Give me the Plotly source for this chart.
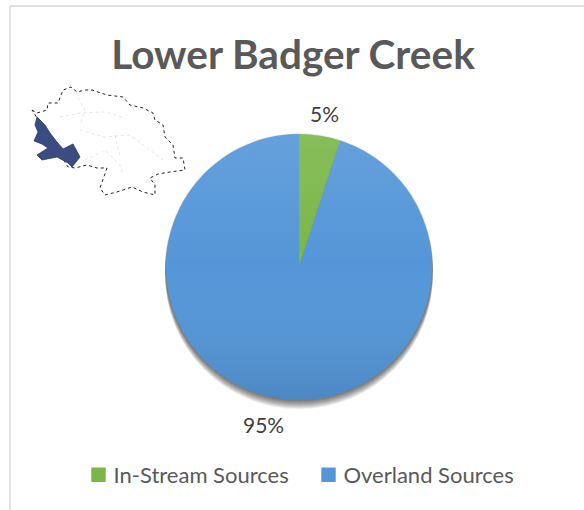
import base64
import plotly.graph_objects as go

W, H = 584, 510

title = "Lower Badger Creek"
categories = ["In-Stream Sources", "Overland Sources"]
shares = [5, 95]
colors = ["#7AB648", "#5496D8"]
label_positions = [(325, 114), (263, 424)]

# Inset locator map, in page pixels (decoration, not data)
map_outline = [(32,110),(37,113),(47,110),(48,103),(58,103),(63,90),(71,87),(77,92),(85,90),(92,90),
               (107,95),(123,97),(130,105),(143,108),(153,113),(155,120),(163,125),(165,137),(173,145),
               (175,158),(183,158),(185,170),(170,172),(158,174),(150,178),(155,185),(155,195),(143,192),
               (132,187),(117,192),(105,195),(100,188),(107,168),(97,168),(87,165),(75,168),(68,167)]
map_basin = [(37,117),(45,125),(50,133),(57,142),(63,149),(73,144),(80,157),(72,167),(68,163),(57,157),(42,160),
             (37,155),(48,148),(42,144),(34,141),(38,132),(35,125)]
map_inner = [[(60,117),(80,113),(105,112),(125,118)],
             [(80,130),(105,137),(130,135),(150,150),(163,160)],
             [(85,160),(105,150),(120,165),(123,175)],
             [(78,98),(85,110),(80,125)],
             [(115,135),(120,155)]]


def px(x, y):
    return x / W, 1 - y / H


def path(points, close=False):
    parts = []
    for i, (x, y) in enumerate(points):
        fx, fy = px(x, y)
        parts.append(("M" if i == 0 else "L") + f"{fx:.5f},{fy:.5f}")
    return " ".join(parts) + (" Z" if close else "")


cx, cy, r = 299, 267, 133
shapes = []

# frame
shapes.append(dict(type="line", xref="paper", yref="paper", x0=10/W, x1=1, y0=1-6/H, y1=1-6/H,
                   line=dict(color="#d9d9d9", width=1.5)))
shapes.append(dict(type="line", xref="paper", yref="paper", x0=10/W, x1=10/W, y0=0, y1=1-6/H,
                   line=dict(color="#d9d9d9", width=1.5)))

# soft shadow under the pie, cast downwards
for i in range(9):
    rr = r + 1
    x0, y0 = px(cx - rr, cy + i - rr)
    x1, y1 = px(cx + rr, cy + i + rr)
    shapes.append(dict(type="circle", xref="paper", yref="paper", x0=x0, x1=x1, y0=y0, y1=y1,
                       layer="below", fillcolor="rgba(0,0,0,0.075)", line_width=0))

# white backing of the inset
x0, y0 = px(28, 80)
x1, y1 = px(186, 197)
shapes.append(dict(type="rect", xref="paper", yref="paper", x0=x0, x1=x1, y0=y0, y1=y1,
                   fillcolor="white", line_width=0, layer="above"))
shapes.append(dict(type="path", xref="paper", yref="paper", path=path(map_outline, True),
                   line=dict(color="#222222", width=1, dash="dot"), fillcolor="white", layer="above"))
for seg in map_inner:
    shapes.append(dict(type="path", xref="paper", yref="paper", path=path(seg),
                       line=dict(color="#d8d8d8", width=0.7, dash="dot"), layer="above"))
shapes.append(dict(type="path", xref="paper", yref="paper", path=path(map_basin, True),
                   line=dict(color="#2b3a66", width=0.8), fillcolor="#3B4C80", layer="above"))

fig = go.Figure(go.Pie(
    labels=categories,
    values=shares,
    sort=False,
    direction="clockwise",
    rotation=0,
    marker=dict(colors=colors, line=dict(width=0)),
    textinfo="none",
    hoverinfo="label+percent",
    domain=dict(x=[(cx - r) / W, (cx + r) / W], y=[1 - (cy + r) / H, 1 - (cy - r) / H]),
))

annotations = []
total = sum(shares)
for share, (lx, ly) in zip(shares, label_positions):
    fx, fy = px(lx, ly)
    annotations.append(dict(text=f"{share / total:.0%}", x=fx, y=fy, xref="paper", yref="paper",
                            xanchor="center", yanchor="middle", showarrow=False,
                            font=dict(family="Lato", size=21, color="#404040")))

# top-to-bottom sheen over the pie, kept under the inset
svg = (f'<svg xmlns="http://www.w3.org/2000/svg" width="{2*r}" height="{2*r}">'
       '<defs><linearGradient id="g" x1="0" y1="0" x2="0" y2="1">'
       '<stop offset="0" stop-color="#fff" stop-opacity="0.1"/>'
       '<stop offset="0.5" stop-color="#fff" stop-opacity="0"/>'
       '<stop offset="1" stop-color="#000" stop-opacity="0.1"/>'
       '</linearGradient></defs>'
       f'<circle cx="{r}" cy="{r}" r="{r}" fill="url(#g)"/></svg>')
sheen = "data:image/svg+xml;base64," + base64.b64encode(svg.encode()).decode()

fig.update_layout(
    width=W, height=H,
    margin=dict(l=0, r=0, t=0, b=0),
    autosize=False,
    paper_bgcolor="white",
    plot_bgcolor="white",
    font=dict(family="Lato", color="#595959"),
    title=dict(text=f"<b>{title}</b>", x=293/W, xanchor="center", y=1-55/H, yanchor="middle",
               font=dict(family="Lato", size=40.5, color="#595959")),
    legend=dict(orientation="h", x=73.5/W, xanchor="left", y=1-475/H, yanchor="middle",
                font=dict(family="Lato", size=22, color="#595959"),
                itemwidth=30, entrywidth=185, entrywidthmode="pixels",
                bgcolor="rgba(0,0,0,0)"),
    annotations=annotations,
    shapes=shapes,
    images=[dict(source=sheen, xref="paper", yref="paper", x=(cx - r)/W, y=1-(cy - r)/H,
                 sizex=2*r/W, sizey=2*r/H, xanchor="left", yanchor="top",
                 sizing="stretch", layer="above")],
)

# body margin off; legend swatches enlarged as in the reference
post = """
document.body.style.margin='0';
document.querySelectorAll('.legendpoints').forEach(function(g){
  var t = g.getAttribute('transform') || '';
  g.setAttribute('transform', t + ' translate(1,0) scale(1.2)');
});
"""
fig.write_html("out.html", post_script=post, config={"displayModeBar": False})
